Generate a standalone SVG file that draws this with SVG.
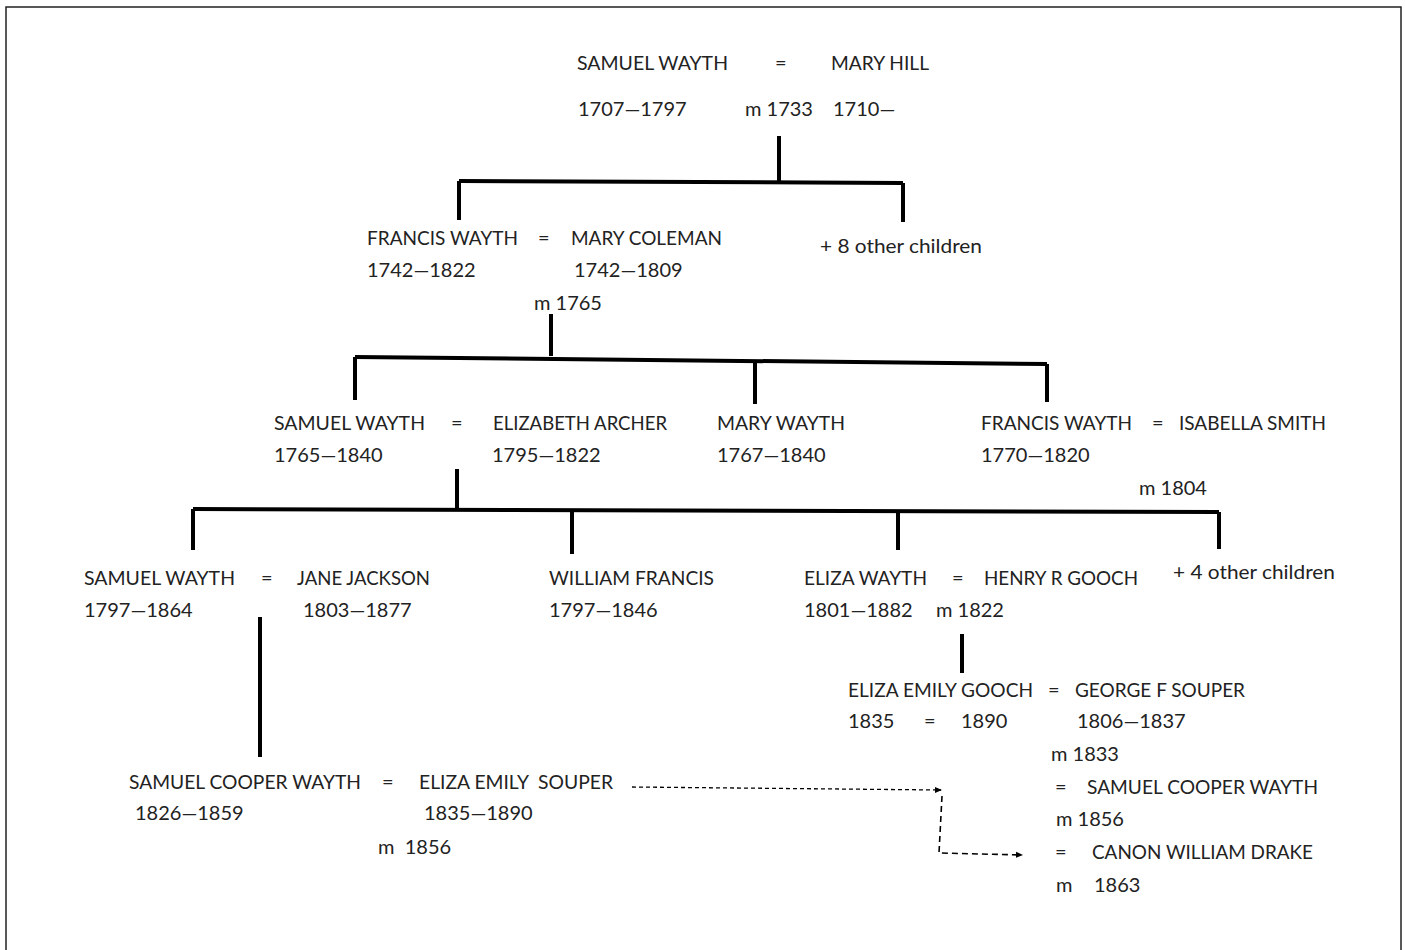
<svg xmlns="http://www.w3.org/2000/svg" width="1405" height="950" viewBox="0 0 1405 950">
<style>
text{font-family:Lato,"Carlito","Liberation Sans",sans-serif;font-size:20px;fill:#222}
.pre{white-space:pre}
.ln{stroke:#000;stroke-width:4;fill:none;stroke-linecap:butt}
.d1{stroke:#000;stroke-width:1.3;fill:none;stroke-dasharray:4 3}
.d2{stroke:#000;stroke-width:1.6;fill:none;stroke-dasharray:6 4}
</style>
<defs>
<marker id="ah" markerWidth="8" markerHeight="8" refX="6" refY="4" orient="auto" markerUnits="userSpaceOnUse">
<path d="M0,1 L7,4 L0,7 Z" fill="#000"/>
</marker>
</defs>
<rect x="0" y="0" width="1405" height="950" fill="#fff"/>
<rect x="6" y="7" width="1395" height="960" fill="none" stroke="#222" stroke-width="1.5"/>

<g id="connectors">
<path class="ln" d="M779,136 V181"/>
<path class="ln" d="M459,181 L903,183"/>
<path class="ln" d="M459,181 V220"/>
<path class="ln" d="M903,183 V222"/>
<path class="ln" d="M551,314 V356"/>
<path class="ln" d="M355,357 L1047,364"/>
<path class="ln" d="M355,357 V400"/>
<path class="ln" d="M755,361 V404"/>
<path class="ln" d="M1047,364 V402"/>
<path class="ln" d="M457,469 V509"/>
<path class="ln" d="M193,509 L1219,512"/>
<path class="ln" d="M193,509 V550"/>
<path class="ln" d="M572,511 V554"/>
<path class="ln" d="M898,511 V550"/>
<path class="ln" d="M1219,512 V549"/>
<path class="ln" d="M260,617 V757"/>
<path class="ln" d="M962,634 V673"/>
<path class="d1" d="M632,787 L941,790" marker-end="url(#ah)"/>
<path class="d2" d="M942,796 L939,853 L1022,855" marker-end="url(#ah)"/>
</g>

<g id="samuel-mary-hill">
<text x="577" y="70" textLength="151" lengthAdjust="spacingAndGlyphs">SAMUEL WAYTH</text>
<text x="775" y="70">=</text>
<text x="831" y="70" textLength="98" lengthAdjust="spacingAndGlyphs">MARY HILL</text>
<text x="578" y="116">1707—1797</text>
<text x="745" y="116">m 1733</text>
<text x="833" y="116">1710—</text>
</g>

<g id="francis-mary-coleman">
<text x="367" y="245" textLength="151" lengthAdjust="spacingAndGlyphs">FRANCIS WAYTH</text>
<text x="538" y="245">=</text>
<text x="571" y="245" textLength="151" lengthAdjust="spacingAndGlyphs">MARY COLEMAN</text>
<text x="367" y="277">1742—1822</text>
<text x="574" y="277">1742—1809</text>
<text x="534" y="310">m 1765</text>
</g>

<g id="other-children-8">
<text x="820" y="253" textLength="162" lengthAdjust="spacingAndGlyphs">+ 8 other children</text>
</g>

<g id="samuel-elizabeth-archer">
<text x="274" y="430" textLength="151" lengthAdjust="spacingAndGlyphs">SAMUEL WAYTH</text>
<text x="451" y="430">=</text>
<text x="493" y="430" textLength="174" lengthAdjust="spacingAndGlyphs">ELIZABETH ARCHER</text>
<text x="274" y="462">1765—1840</text>
<text x="492" y="462">1795—1822</text>
</g>

<g id="mary-wayth">
<text x="717" y="430" textLength="128" lengthAdjust="spacingAndGlyphs">MARY WAYTH</text>
<text x="717" y="462">1767—1840</text>
</g>

<g id="francis-isabella-smith">
<text x="981" y="430" textLength="151" lengthAdjust="spacingAndGlyphs">FRANCIS WAYTH</text>
<text x="1152" y="430">=</text>
<text x="1179" y="430" textLength="147" lengthAdjust="spacingAndGlyphs">ISABELLA SMITH</text>
<text x="981" y="462">1770—1820</text>
<text x="1139" y="495">m 1804</text>
</g>

<g id="samuel-jane-jackson">
<text x="84" y="585" textLength="151" lengthAdjust="spacingAndGlyphs">SAMUEL WAYTH</text>
<text x="261" y="585">=</text>
<text x="297" y="585" textLength="133" lengthAdjust="spacingAndGlyphs">JANE JACKSON</text>
<text x="84" y="617">1797—1864</text>
<text x="303" y="617">1803—1877</text>
</g>

<g id="william-francis">
<text x="549" y="585" textLength="165" lengthAdjust="spacingAndGlyphs">WILLIAM FRANCIS</text>
<text x="549" y="617">1797—1846</text>
</g>

<g id="eliza-henry-gooch">
<text x="804" y="585" textLength="123" lengthAdjust="spacingAndGlyphs">ELIZA WAYTH</text>
<text x="952" y="585">=</text>
<text x="984" y="585" textLength="154" lengthAdjust="spacingAndGlyphs">HENRY R GOOCH</text>
<text x="804" y="617">1801—1882</text>
<text x="936" y="617">m 1822</text>
</g>

<g id="other-children-4">
<text x="1173" y="579" textLength="162" lengthAdjust="spacingAndGlyphs">+ 4 other children</text>
</g>

<g id="eliza-emily-gooch">
<text x="848" y="697" textLength="185" lengthAdjust="spacingAndGlyphs">ELIZA EMILY GOOCH</text>
<text x="1048" y="697">=</text>
<text x="1075" y="697" textLength="170" lengthAdjust="spacingAndGlyphs">GEORGE F SOUPER</text>
<text x="848" y="728">1835</text>
<text x="924" y="728">=</text>
<text x="961" y="728">1890</text>
<text x="1077" y="728">1806—1837</text>
<text x="1051" y="761">m 1833</text>
<text x="1055" y="794">=</text>
<text x="1087" y="794" textLength="231" lengthAdjust="spacingAndGlyphs">SAMUEL COOPER WAYTH</text>
<text x="1056" y="826">m 1856</text>
<text x="1055" y="859">=</text>
<text x="1092" y="859" textLength="221" lengthAdjust="spacingAndGlyphs">CANON WILLIAM DRAKE</text>
<text x="1056" y="892">m</text>
<text x="1094" y="892">1863</text>
</g>

<g id="samuel-cooper-eliza-souper">
<text x="129" y="789" textLength="232" lengthAdjust="spacingAndGlyphs">SAMUEL COOPER WAYTH</text>
<text x="382" y="789">=</text>
<text class="pre" xml:space="preserve" x="419" y="789" textLength="194" lengthAdjust="spacingAndGlyphs">ELIZA EMILY  SOUPER</text>
<text x="135" y="820">1826—1859</text>
<text x="424" y="820">1835—1890</text>
<text class="pre" xml:space="preserve" x="378" y="854">m  1856</text>
</g>
</svg>
